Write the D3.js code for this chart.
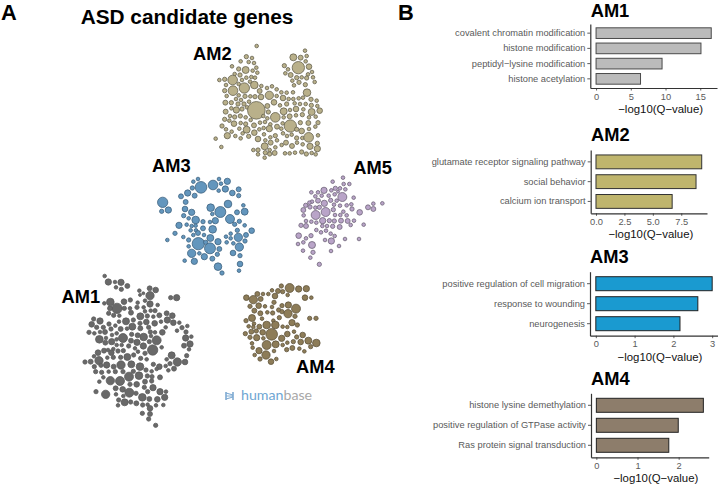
<!DOCTYPE html>
<html><head><meta charset="utf-8">
<script src="https://cdnjs.cloudflare.com/ajax/libs/d3/7.8.5/d3.min.js"></script>
<style>html,body{margin:0;padding:0;background:#fff}svg{display:block;font-family:"Liberation Sans",Arial,sans-serif}</style>
</head><body><svg id="c" width="718" height="485"></svg>
<script>
// Network nodes: [x, y, radius], in crop units
const am2Nodes=[[350,48,5],[319,80,6],[336,84,5],[302,94,5],[326,96,5],[342,99,5],[276,109,5],[349,113,5],[296,117,6],[317,120,10],[338,122,5],[352,128,5],[284,132,5],[300,135,6],[319,143,5],[334,141,5],[345,143,5],[306,150,5],[278,150,14],[238,150,5],[254,148,6],[330,155,5],[343,165,11],[258,165,5],[296,162,5],[313,174,15],[279,182,14],[254,182,6],[364,168,5],[381,174,5],[396,169,5],[410,178,5],[359,183,7],[260,198,5],[296,196,5],[315,199,6],[331,199,5],[345,200,6],[363,201,8],[388,196,12],[410,198,5],[424,187,5],[440,188,5],[459,187,5],[429,204,8],[446,207,5],[460,207,5],[476,205,5],[489,203,5],[513,208,6],[530,212,5],[256,218,7],[274,218,6],[288,207,5],[303,210,5],[294,222,6],[312,222,6],[327,215,5],[402,217,8],[382,228,7],[420,226,5],[440,222,6],[464,220,5],[480,222,5],[497,222,5],[514,226,6],[532,228,5],[257,245,7],[274,235,5],[289,240,9],[306,237,6],[321,232,5],[349,241,26],[385,246,6],[431,244,10],[450,240,5],[468,237,8],[490,238,5],[515,246,10],[539,242,8],[254,268,6],[270,258,5],[284,261,6],[301,258,6],[317,262,5],[332,270,5],[370,258,5],[382,265,5],[406,262,14],[431,262,5],[449,259,7],[468,256,5],[487,254,6],[507,262,5],[527,260,5],[246,288,6],[268,272,5],[282,281,8],[302,279,5],[317,282,6],[342,286,7],[360,278,5],[375,276,5],[391,283,5],[428,280,5],[451,288,18],[481,278,6],[505,279,7],[534,278,6],[258,298,5],[275,305,5],[298,296,5],[320,299,10],[343,308,8],[358,298,5],[371,294,5],[388,296,9],[411,290,7],[424,296,5],[429,310,5],[485,303,8],[507,297,5],[526,290,5],[470,298,6],[227,326,5],[262,317,9],[286,318,5],[302,325,5],[308,310,5],[326,319,6],[354,327,8],[372,313,5],[391,322,5],[406,317,6],[441,318,5],[455,314,5],[470,324,6],[487,324,5],[506,322,14],[534,316,5],[244,351,5],[376,331,5],[392,338,7],[411,331,5],[425,345,5],[438,338,7],[456,348,7],[471,338,5],[488,343,5],[510,349,9],[532,340,6],[340,360,5],[354,360,6],[374,349,10],[389,360,5],[406,352,5],[376,368,6],[404,369,7],[389,372,6],[354,373,5],[435,370,5],[449,370,5],[465,368,5],[485,366,6],[499,372,6],[515,369,5],[532,356,9],[527,373,5],[374,383,5],[495,62,5],[500,78,5],[460,82,10],[482,83,7],[497,94,5],[433,107,6],[475,113,18],[507,110,8],[444,118,5],[436,130,5],[452,135,7],[516,126,5],[504,133,5],[470,143,6],[485,142,5],[500,144,6],[519,142,5],[457,152,5],[477,157,6],[496,164,6],[524,156,5],[462,166,5],[501,188,11]];
const am3Nodes=[[174,72,5],[160,80,5],[183,97,17],[219,90,14],[237,72,5],[262,79,9],[243,86,5],[157,99,6],[143,114,9],[123,124,7],[164,122,7],[256,102,9],[236,107,5],[277,114,8],[296,103,7],[296,122,6],[137,141,7],[68,142,15],[65,169,6],[85,165,9],[135,162,8],[155,172,9],[212,158,11],[264,147,11],[241,171,16],[310,151,5],[291,172,7],[314,170,10],[217,177,5],[131,182,6],[146,190,5],[167,195,11],[189,200,6],[210,201,5],[226,197,9],[270,192,13],[298,199,6],[117,211,9],[140,209,5],[155,213,5],[167,212,5],[189,220,7],[218,223,11],[284,208,6],[314,211,5],[292,226,6],[152,226,5],[168,226,5],[174,234,7],[105,235,6],[130,246,5],[146,255,6],[160,240,5],[192,240,5],[211,249,10],[234,260,9],[258,245,5],[272,236,5],[272,250,5],[295,247,12],[318,240,7],[335,227,8],[175,266,18],[82,255,5],[260,262,5],[280,265,5],[315,258,6],[146,274,5],[210,280,16],[238,282,7],[298,276,12],[155,295,12],[178,295,5],[193,305,9],[217,311,7],[232,298,6],[279,294,8],[300,302,6],[134,317,5],[163,319,9],[234,335,11],[300,327,8],[297,347,5],[246,354,6],[197,262,6]];
const am5Nodes=[[609,68,5],[578,80,5],[628,87,5],[611,87,5],[600,100,5],[616,103,5],[586,100,6],[574,106,5],[552,106,9],[514,112,5],[534,112,5],[607,126,13],[526,124,5],[545,122,5],[566,122,5],[584,118,5],[594,110,4],[641,128,5],[516,140,5],[534,137,7],[553,145,9],[572,136,6],[590,137,5],[508,143,5],[497,151,6],[582,149,5],[600,152,5],[620,151,5],[634,148,5],[700,146,5],[727,145,5],[684,157,7],[700,162,7],[510,156,6],[490,165,7],[526,158,5],[538,157,6],[557,171,13],[527,180,13],[580,164,6],[636,162,6],[610,170,5],[659,172,8],[491,181,5],[585,180,5],[601,180,5],[620,181,5],[498,198,5],[514,200,5],[529,203,5],[548,197,9],[568,197,6],[583,198,6],[603,197,7],[623,198,7],[642,197,5],[483,211,6],[498,213,7],[547,213,5],[561,213,5],[578,214,6],[599,216,7],[632,210,5],[671,209,5],[529,225,5],[543,232,5],[558,227,5],[572,236,5],[584,243,5],[476,242,8],[498,250,5],[513,242,6],[555,255,5],[574,258,9],[615,252,5],[657,252,5],[474,267,5],[490,262,5],[516,270,10],[597,273,5],[489,287,5],[519,292,6],[573,288,5],[511,308,5],[538,328,6]];
const am1Nodes=[[164,18,5],[175,36,9],[195,36,5],[213,37,9],[232,48,7],[198,52,5],[214,58,6],[268,62,5],[280,70,4],[299,55,7],[317,60,8],[300,77,12],[270,75,4],[362,83,6],[380,83,9],[181,96,11],[163,100,5],[222,95,8],[241,90,6],[201,115,15],[263,98,5],[285,92,5],[300,102,9],[180,115,7],[176,130,6],[223,115,6],[240,115,5],[243,128,7],[261,112,6],[281,112,5],[323,105,5],[302,122,5],[315,122,6],[285,124,5],[350,130,7],[367,137,8],[191,136,6],[208,137,5],[271,139,10],[292,138,6],[310,140,5],[328,136,7],[131,147,6],[150,153,9],[228,154,10],[207,155,5],[250,150,6],[289,156,8],[270,160,6],[352,150,9],[370,158,8],[388,158,5],[333,155,5],[314,160,8],[125,163,8],[140,172,6],[177,162,6],[160,172,6],[196,167,5],[247,170,10],[271,175,7],[296,172,6],[347,172,5],[396,173,6],[412,168,5],[117,187,6],[133,190,5],[150,186,5],[165,186,7],[183,177,6],[212,177,7],[231,176,5],[337,187,8],[315,187,5],[301,186,6],[381,182,5],[408,186,6],[148,208,11],[168,204,5],[186,195,5],[200,190,5],[219,204,13],[245,193,6],[263,196,7],[281,201,11],[303,198,5],[407,204,9],[424,200,5],[185,215,9],[166,218,7],[200,208,5],[243,212,7],[261,217,9],[320,211,13],[298,215,6],[280,228,9],[236,228,6],[215,225,5],[200,225,5],[308,240,15],[420,222,9],[402,227,7],[335,232,5],[417,238,5],[144,248,8],[162,242,7],[190,237,5],[174,240,5],[220,242,6],[204,243,6],[255,235,5],[264,245,5],[184,248,8],[232,261,10],[285,250,6],[132,259,5],[147,272,12],[122,275,7],[105,276,6],[172,263,5],[190,262,6],[212,262,6],[251,255,6],[272,265,6],[290,268,5],[365,256,10],[410,257,6],[350,268,5],[133,290,6],[153,286,6],[170,285,9],[191,290,7],[213,285,12],[244,283,10],[270,290,11],[310,283,6],[328,290,8],[347,288,5],[382,276,12],[405,276,8],[360,281,6],[372,296,7],[355,301,5],[137,305,6],[155,307,6],[176,305,5],[196,305,6],[219,305,6],[250,304,6],[288,300,6],[305,304,5],[320,297,5],[160,322,5],[181,332,12],[210,333,13],[237,320,13],[267,317,11],[292,318,6],[306,320,6],[330,322,7],[148,335,5],[285,335,7],[305,333,6],[240,343,6],[260,343,8],[197,355,7],[218,358,8],[238,368,13],[309,353,9],[283,352,6],[138,365,6],[167,373,12],[198,373,5],[220,378,5],[258,370,6],[293,365,6],[330,365,9],[348,365,5],[206,390,6],[224,397,10],[242,396,6],[277,382,11],[298,387,7],[322,388,8],[344,382,9],[259,400,7],[204,406,5],[278,405,6],[293,404,5],[340,405,5],[318,406,5],[300,415,8],[277,430,6],[300,432,7],[296,447,6],[317,466,6]];
const am4Nodes=[[214,33,6],[239,39,13],[204,48,7],[186,46,5],[218,50,6],[266,42,9],[289,41,9],[142,57,7],[159,57,5],[175,57,5],[195,63,8],[233,60,5],[109,68,8],[130,74,12],[152,72,7],[285,68,8],[304,68,5],[192,82,6],[120,94,6],[146,92,8],[165,94,5],[216,92,6],[235,90,9],[133,107,7],[186,96,5],[206,105,6],[258,101,13],[172,112,5],[151,115,7],[188,114,6],[216,110,6],[234,116,12],[255,124,6],[126,129,10],[156,131,5],[190,137,5],[208,128,6],[299,130,6],[318,130,6],[108,137,6],[132,146,5],[170,150,11],[196,150,11],[218,155,5],[232,156,5],[246,143,9],[262,150,6],[116,154,5],[130,156,5],[148,155,7],[106,176,6],[124,170,7],[139,168,6],[158,172,8],[185,178,17],[232,177,8],[252,170,5],[278,180,8],[120,187,6],[140,188,9],[160,190,5],[215,190,9],[260,186,6],[126,205,5],[170,210,13],[197,208,10],[232,203,5],[250,200,6],[272,201,8],[295,197,10],[319,204,11],[218,210,5],[128,218,5],[147,227,9],[192,228,5],[230,224,6],[247,219,7],[268,221,5],[302,215,6],[283,229,5],[134,240,5],[168,240,12],[150,252,6],[183,260,8],[199,252,5]];

// Enrichment bars
const am1Terms=["covalent chromatin modification","histone modification","peptidyl\u2212lysine modification","histone acetylation"];
const am1Values=[16.58,15.1,9.5,6.4];
const am1Ticks=[0,5,10,15];
const am2Terms=["glutamate receptor signaling pathway","social behavior","calcium ion transport"];
const am2Values=[9.3,8.8,6.7];
const am2Ticks=[0,2.5,5,7.5];
const am3Terms=["positive regulation of cell migration","response to wounding","neurogenesis"];
const am3Values=[3.0,2.63,2.17];
const am3Ticks=[0,1,2,3];
const am4Terms=["histone lysine demethylation","positive regulation of GTPase activity","Ras protein signal transduction"];
const am4Values=[2.6,1.99,1.76];
const am4Ticks=[0,1,2];

const svg=d3.select("#c");
function txt(s,x,y,size,weight,fill,anchor){
  return svg.append("text").attr("x",x).attr("y",y).attr("font-size",size).attr("font-weight",weight||"normal")
    .attr("fill",fill||"#000").attr("text-anchor",anchor||"start").text(s);
}
txt("A",1,19.8,21.8,"bold");
txt("B",398,19.8,21.8,"bold");
txt("ASD candidate genes",187,23.5,20.8,"bold","#000","middle");

// network clusters
const clusters=[
 {nodes:am1Nodes,x0:50,y0:270,w:170,h:170,fill:"#696969",stroke:"#5c5c5c"},
 {nodes:am2Nodes,x0:140,y0:30,w:250,h:130,fill:"#b9b08a",stroke:"#66624f"},
 {nodes:am3Nodes,x0:140,y0:155,w:250,h:125,fill:"#6396bd",stroke:"#3f6380"},
 {nodes:am5Nodes,x0:140,y0:155,w:250,h:125,fill:"#b9a4c8",stroke:"#6f6478"},
 {nodes:am4Nodes,x0:210,y0:275,w:140,h:140,fill:"#8d7c58",stroke:"#5f543c"}
];
clusters.forEach(c=>{
  const sx=d3.scaleLinear().domain([0,c.w*3]).range([c.x0,c.x0+c.w]);
  const sy=d3.scaleLinear().domain([0,c.h*3]).range([c.y0,c.y0+c.h]);
  const sr=d3.scaleLinear().domain([0,3]).range([0.15,1.15]);
  svg.append("g").selectAll("circle").data(c.nodes).join("circle")
    .attr("cx",d=>sx(d[0])).attr("cy",d=>sy(d[1])).attr("r",d=>sr(d[2]))
    .attr("fill",c.fill).attr("stroke",c.stroke).attr("stroke-width",0.8);
});
[["AM2",193,60],["AM3",152,172.3],["AM5",353.3,174.3],["AM1",61.5,302.7],["AM4",296,373.3]].forEach(a=>txt(a[0],a[1],a[2],18.3,"bold"));

// humanbase mark
const logo=svg.append("g").attr("fill","none").attr("stroke","#7fabd3").attr("stroke-width",1.6);
logo.append("path").attr("d","M226 392V400M233 392V400");
logo.append("path").attr("d","M226 393L233 395M226 399L233 397M226 396H233").attr("stroke-width",1.1);
const hb=svg.append("text").attr("x",241).attr("y",400).attr("font-family","Lato, sans-serif").attr("font-size",14.2);
hb.append("tspan").attr("fill","#6ea6d3").text("human");
hb.append("tspan").attr("fill","#a8a8a8").text("base");

// bar panels
const panels=[
 {t:"AM1",terms:am1Terms,vals:am1Values,ticks:am1Ticks,fmt:d3.format("d"),dom:[-0.83,17.41],xr:[590.3,717],yr:[24,88],fill:"#bbbbbb",bs:"#4a4a4a",tx:590.7,ty:16.6,tly:100,xly:113},
 {t:"AM2",terms:am2Terms,vals:am2Values,ticks:am2Ticks,fmt:d3.format(".1f"),dom:[-0.465,9.765],xr:[590.7,707],yr:[150,213.3],fill:"#bfb56d",bs:"#333",tx:591,ty:141,tly:225.5,xly:238},
 {t:"AM3",terms:am3Terms,vals:am3Values,ticks:am3Ticks,fmt:d3.format("d"),dom:[-0.15,3.15],xr:[590,718],yr:[271.7,335.7],fill:"#1a9ad0",bs:"#222",tx:590,ty:262.7,tly:347.5,xly:360.5},
 {t:"AM4",terms:am4Terms,vals:am4Values,ticks:am4Ticks,fmt:d3.format("d"),dom:[-0.13,2.73],xr:[591,708.7],yr:[393.3,457.3],fill:"#8d7d6b",bs:"#222",tx:591,ty:385,tly:469.5,xly:482}
];
panels.forEach(p=>{
  const x=d3.scaleLinear().domain(p.dom).range(p.xr);
  const y=d3.scaleBand().domain(p.terms).range(p.yr).paddingInner(0.3).paddingOuter(0.25);
  txt(p.t,p.tx,p.ty,18.3,"bold");
  svg.append("g").selectAll("rect").data(p.terms).join("rect")
    .attr("x",x(0)).attr("y",d=>y(d)).attr("height",y.bandwidth())
    .attr("width",(d,i)=>x(p.vals[i])-x(0))
    .attr("fill",p.fill).attr("stroke",p.bs).attr("stroke-width",1);
  const ax=svg.append("g").attr("transform",`translate(0,${p.yr[1]})`)
    .call(d3.axisBottom(x).tickValues(p.ticks).tickFormat(p.fmt).tickSize(2.5).tickSizeOuter(0));
  const ay=svg.append("g").attr("transform",`translate(${p.xr[0]},0)`)
    .call(d3.axisLeft(y).tickSize(3).tickSizeOuter(0));
  [ax,ay].forEach(g=>{
    g.select(".domain").attr("stroke","#333").attr("stroke-width",1.2);
    g.selectAll(".tick line").attr("stroke","#333").attr("stroke-width",0.8);
    g.selectAll("text").attr("fill","#5a5a5a").attr("font-size",9.3).attr("font-family","Liberation Sans");
  });
  ax.selectAll("text").each(function(){d3.select(this).attr("y",p.tly-p.yr[1]).attr("dy",0);});
  ay.selectAll("text").attr("x",-5);
  txt("\u2212log10(Q\u2212value)",(p.xr[0]+p.xr[1])/2+ (p.t==="AM1"?7:p.t==="AM2"?2:6),p.xly,11.4,"normal","#111","middle");
});
</script></body></html>
